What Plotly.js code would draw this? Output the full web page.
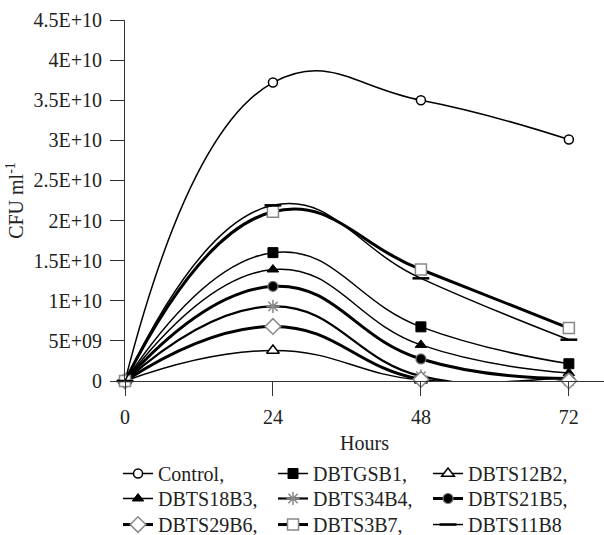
<!DOCTYPE html>
<html>
<head>
<meta charset="utf-8">
<script src="https://cdn.plot.ly/plotly-3.0.1.min.js"></script>
<style>html,body{margin:0;padding:0;background:#fff;}#chart{width:604px;height:535px;}</style>
</head>
<body>
<div id="chart"></div>
<script>
// Time points (hours)
var hours = [0, 24, 48, 72];

// CFU ml-1 values per strain
var control   = [0, 3.72e10, 3.50e10, 3.01e10];
var dbtgsb1   = [0, 1.60e10, 6.75e9, 2.15e9];
var dbts12b2  = [0, 3.8e9, 0.1e9, 0.5e9];
var dbts18b3  = [0, 1.39e10, 4.5e9, 1.0e9];
var dbts34b4  = [0, 9.3e9, 0.6e9, 0.0];
var dbts21b5  = [0, 1.18e10, 2.75e9, 0.3e9];
var dbts29b6  = [0, 6.8e9, 0.2e9, 0.0];
var dbts3b7   = [0, 2.11e10, 1.39e10, 6.6e9];
var dbts11b8  = [0, 2.19e10, 1.28e10, 5.15e9];

var seriesNames = ['Control,', 'DBTGSB1,', 'DBTS12B2,', 'DBTS18B3,', 'DBTS34B4,', 'DBTS21B5,', 'DBTS29B6,', 'DBTS3B7,', 'DBTS11B8'];

// Axis tick labels
var yTickVals = [0, 5e9, 1e10, 1.5e10, 2e10, 2.5e10, 3e10, 3.5e10, 4e10, 4.5e10];
var yTickText = ['0', '5E+09', '1E+10', '1.5E+10', '2E+10', '2.5E+10', '3E+10', '3.5E+10', '4E+10', '4.5E+10'];
var xTickVals = [0, 24, 48, 72];
var xTickText = ['0', '24', '48', '72'];

var FONT = 'Liberation Serif';

function mk(name, y, lineW, sym, msize, mcolor, lcolor, lw, legend) {
  return {
    x: hours, y: y, name: name, type: 'scatter', mode: 'lines+markers',
    line: {shape: 'spline', smoothing: 1.3, color: '#000', width: lineW},
    marker: {symbol: sym, size: msize, color: mcolor, line: {color: lcolor, width: lw}},
    cliponaxis: false, legend: legend
  };
}

var data = [
  mk(seriesNames[0], control, 1.5, 'circle', 9, '#fff', '#000', 1.5, 'legend'),
  mk(seriesNames[1], dbtgsb1, 1.5, 'square', 10, '#000', '#000', 1, 'legend'),
  mk(seriesNames[2], dbts12b2, 1.5, 'triangle-up', 11, '#fff', '#000', 1.5, 'legend'),
  mk(seriesNames[3], dbts18b3, 1.5, 'triangle-up', 10, '#000', '#000', 1, 'legend2'),
  mk(seriesNames[4], dbts34b4, 2.2, 'asterisk-open', 11, '#888', '#888', 1.5, 'legend2'),
  mk(seriesNames[5], dbts21b5, 3, 'circle', 10, '#000', '#777', 1.2, 'legend2'),
  mk(seriesNames[6], dbts29b6, 3, 'diamond', 12, '#fff', '#888', 1.5, 'legend3'),
  mk(seriesNames[7], dbts3b7, 3, 'square', 11, '#fff', '#888', 1.5, 'legend3'),
  mk(seriesNames[8], dbts11b8, 1.5, 'line-ew-open', 12, '#000', '#000', 2.5, 'legend3')
];

var legendBase = {
  xref: 'container', yref: 'container',
  yanchor: 'top', xanchor: 'left', x: 0.1954,
  font: {family: FONT, size: 20, color: '#222'},
  bgcolor: 'rgba(0,0,0,0)', borderwidth: 0, orientation: 'h',
  entrywidth: 110, entrywidthmode: 'pixels', itemwidth: 30
};

var layout = {
  width: 604, height: 535,
  margin: {l: 125, r: 0, t: 20, b: 153.5},
  paper_bgcolor: '#fff', plot_bgcolor: '#fff',
  font: {family: FONT, size: 20, color: '#222'},
  showlegend: true,
  legend: Object.assign({}, legendBase, {y: 0.1514}),
  legend2: Object.assign({}, legendBase, {y: 0.1047}),
  legend3: Object.assign({}, legendBase, {y: 0.056}),
  xaxis: {
    range: [0, 77.7], tickvals: xTickVals, ticktext: xTickText,
    showline: true, linecolor: '#333', linewidth: 1,
    ticks: 'outside', ticklen: 14, tickcolor: '#333', tickwidth: 1,
    ticklabelstandoff: 4,
    showgrid: false, zeroline: false,
    tickfont: {family: FONT, size: 20, color: '#222'},
    title: {text: 'Hours', font: {family: FONT, size: 20, color: '#222'}, standoff: 12}
  },
  yaxis: {
    range: [0, 4.5e10], tickvals: yTickVals, ticktext: yTickText,
    showline: true, linecolor: '#333', linewidth: 1,
    ticks: 'outside', ticklen: 14, tickcolor: '#333', tickwidth: 1,
    ticklabelstandoff: 4,
    showgrid: false, zeroline: false,
    tickfont: {family: FONT, size: 20, color: '#222'},
    title: {text: 'CFU ml<sup>-1</sup>', font: {family: FONT, size: 20, color: '#222'}, standoff: 4}
  }
};

function forceSerif() {
  var texts = document.querySelectorAll('#chart text, #chart tspan');
  for (var i = 0; i < texts.length; i++) {
    texts[i].style.setProperty('font-family', '"Liberation Serif", "Times New Roman", serif', 'important');
  }
}

Plotly.newPlot('chart', data, layout, {displayModeBar: false, staticPlot: true}).then(forceSerif);
</script>
</body>
</html>
